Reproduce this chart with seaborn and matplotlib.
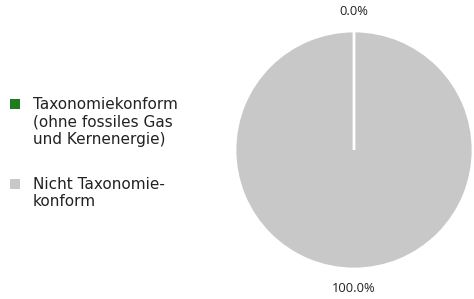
import matplotlib
matplotlib.use("Agg")
import matplotlib.pyplot as plt
import seaborn as sns
from matplotlib.patches import Rectangle

# data
categories = [
    "Taxonomiekonform\n(ohne fossiles Gas\nund Kernenergie)",
    "Nicht Taxonomie-\nkonform",
]
shares = [0.0, 100.0]
colors = ["#1e7b1e", "#c8c8c8"]

W, H = 474, 299

sns.set_theme(style="white")
plt.rcParams["font.family"] = ["DejaVu Sans"]

fig = plt.figure(figsize=(W / 100, H / 100), dpi=100)
ax = fig.add_axes([(354 - 119) / W, (H - 150 - 119) / H, 238 / W, 238 / H])

wedges, texts, autotexts = ax.pie(
    shares,
    colors=colors,
    startangle=90,
    counterclock=True,
    autopct="%.1f%%",
    pctdistance=1.165,
    wedgeprops=dict(edgecolor="white", linewidth=2),
    textprops=dict(fontsize=9.3, color="#222222", family=["Open Sans", "DejaVu Sans"]),
)
# keep the zero slice's white edge visible on top of the full grey disc
wedges[0].set_zorder(3)
ax.set_xlim(-1, 1)
ax.set_ylim(-1, 1)
ax.set_aspect("equal")

# legend, drawn by hand so the square sits on the first text line
first_baselines = [109, 189]
line_step = 17.5
for label, color, base in zip(categories, colors, first_baselines):
    fig.patches.append(
        Rectangle((10 / W, 1 - base / H), 10 / W, 10 / H,
                  transform=fig.transFigure, facecolor=color, edgecolor="none")
    )
    for i, line in enumerate(label.split("\n")):
        fig.text(33 / W, 1 - (base + i * line_step) / H, line,
                 va="baseline", ha="left", fontsize=11, color="#222222")

fig.savefig("out.png", dpi=100)
